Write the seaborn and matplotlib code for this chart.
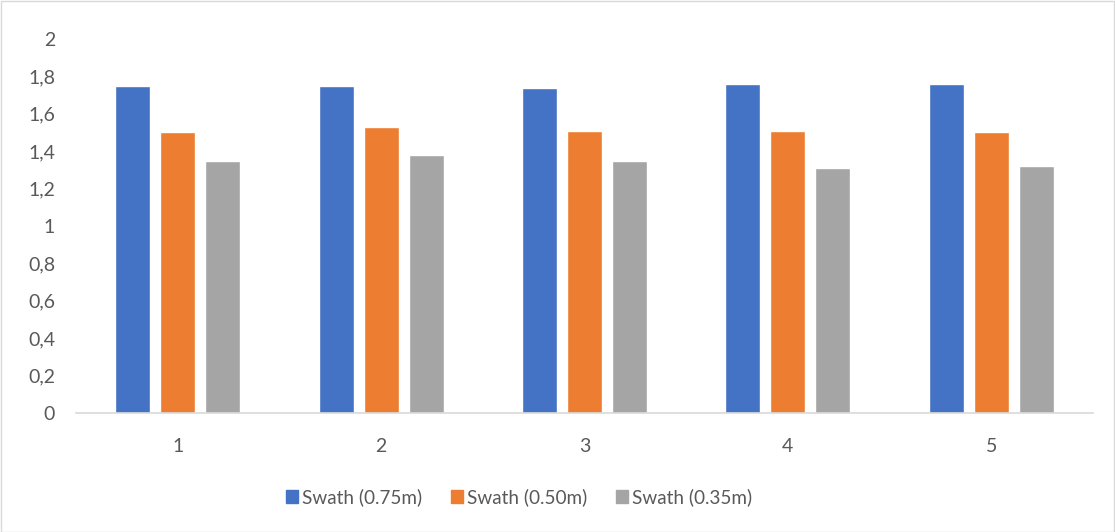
import numpy as np
import pandas as pd
import matplotlib
matplotlib.use("Agg")
import matplotlib.pyplot as plt
import seaborn as sns
from matplotlib.patches import Rectangle

groups = ["1", "2", "3", "4", "5"]
swath_075 = [1.75, 1.75, 1.74, 1.76, 1.76]
swath_050 = [1.50, 1.53, 1.51, 1.51, 1.50]
swath_035 = [1.35, 1.38, 1.35, 1.31, 1.32]
series = ["Swath (0.75m)", "Swath (0.50m)", "Swath (0.35m)"]
colors = ["#4472C4", "#ED7D31", "#A5A5A5"]
yticks = [0, 0.2, 0.4, 0.6, 0.8, 1, 1.2, 1.4, 1.6, 1.8, 2]

df = pd.DataFrame({
    "group": groups * 3,
    "value": swath_075 + swath_050 + swath_035,
    "series": [series[0]] * 5 + [series[1]] * 5 + [series[2]] * 5,
})

sns.set_style("white")
plt.rcParams["font.family"] = ["Lato", "DejaVu Sans"]
text_col = "#595959"

fig = plt.figure(figsize=(11.15, 5.32), dpi=100)
ax = fig.add_axes([76 / 1115, 1 - 413 / 532, 1017 / 1115, 374 / 532])

sns.barplot(data=df, x="group", y="value", hue="series", palette=colors,
            width=0.665, gap=0.224, saturation=1, ax=ax, legend=False)

ax.set_ylim(0, 2)
ax.set_xlim(-0.5, 4.5)
ax.set_yticks(yticks)
ax.set_yticklabels([("%g" % t).replace(".", ",") for t in yticks])
ax.set_xlabel("")
ax.set_ylabel("")
for s in ["top", "right", "left"]:
    ax.spines[s].set_visible(False)
ax.spines["bottom"].set_color("#D9D9D9")
ax.spines["bottom"].set_linewidth(1.2)
ax.tick_params(axis="both", length=0, labelsize=14, labelcolor=text_col)
ax.tick_params(axis="y", pad=15)
ax.tick_params(axis="x", pad=18)

# legend sits a bit left of centre, as in the original
handles = [Rectangle((0, 0), 1, 1, color=c) for c in colors]
fig.legend(handles, series, loc="center", bbox_to_anchor=(519 / 1115, 1 - 497 / 532),
           ncol=3, frameon=False, fontsize=13.6, labelcolor=text_col,
           handlelength=0.64, handleheight=0.64, handletextpad=0.21,
           columnspacing=1.53)

fig.add_artist(Rectangle((0.5 / 1115, 0.5 / 532), 1 - 1.5 / 1115, 1 - 1.5 / 532,
                         transform=fig.transFigure, fill=False,
                         edgecolor="#D9D9D9", linewidth=1))

fig.savefig("out.png", dpi=100)
